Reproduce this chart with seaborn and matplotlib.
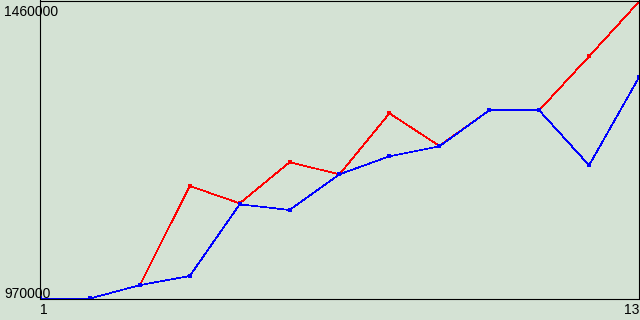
import matplotlib
matplotlib.use("Agg")
import matplotlib.pyplot as plt
import matplotlib.transforms as mtransforms
import seaborn as sns
import pandas as pd

x_values = list(range(1, 14))
red_values = [970000, 970000, 992000, 1155000, 1126500, 1194000, 1174200, 1274500,
              1221000, 1279400, 1279400, 1368200, 1458000]
blue_values = [970000, 970000, 992000, 1007000, 1124900, 1115500, 1174200, 1203800,
               1220200, 1279400, 1279400, 1189000, 1333700]
y_ticks = [970000, 1460000]
y_tick_labels = ["970000", "1460000"]
x_ticks = [1, 13]
x_tick_labels = ["1", "13"]

bg = "#d4e2d4"
sns.set_theme(style="white")
plt.rcParams["font.family"] = ["Liberation Sans", "DejaVu Sans"]

df = pd.DataFrame({
    "x": x_values * 2,
    "y": red_values + blue_values,
    "series": ["red"] * len(red_values) + ["blue"] * len(blue_values),
})

fig = plt.figure(figsize=(6.4, 3.2), dpi=100, facecolor=bg)
ax = fig.add_axes([40 / 640, 21.5 / 320, 599 / 640, 298 / 320])
ax.set_facecolor(bg)

sns.lineplot(data=df, x="x", y="y", hue="series", hue_order=["red", "blue"],
             palette={"red": "#ff0000", "blue": "#0000ff"}, marker="s",
             markersize=3, markeredgewidth=0, linewidth=0.5, legend=False,
             ax=ax, antialiased=False)

ax.set_xlim(1, 13)
ax.set_ylim(970000, 1460000)
ax.set_xticks(x_ticks)
ax.set_xticklabels(x_tick_labels)
ax.set_yticks(y_ticks)
ax.set_yticklabels(y_tick_labels)
ax.set_xlabel("")
ax.set_ylabel("")
ax.tick_params(axis="y", length=0, pad=26, labelsize=10, colors="black")
ax.tick_params(axis="x", length=0, pad=3, labelsize=10, colors="black")
for lab in ax.get_yticklabels():
    lab.set_horizontalalignment("left")
ylabs = ax.get_yticklabels()
ylabs[0].set_verticalalignment("bottom")
ylabs[1].set_verticalalignment("top")
ylabs[1].set_transform(ylabs[1].get_transform()
                       + mtransforms.ScaledTranslation(0, -3 / 72, fig.dpi_scale_trans))
ylabs[0].set_transform(ylabs[0].get_transform()
                       + mtransforms.ScaledTranslation(0, -1.5 / 72, fig.dpi_scale_trans))
xlabs = ax.get_xticklabels()
xlabs[0].set_horizontalalignment("left")
xlabs[1].set_horizontalalignment("right")
for s in ax.spines.values():
    s.set_color("black")
    s.set_linewidth(0.8)
    s.set_visible(True)
ax.grid(False)

fig.savefig("out.png", dpi=100, facecolor=bg)
